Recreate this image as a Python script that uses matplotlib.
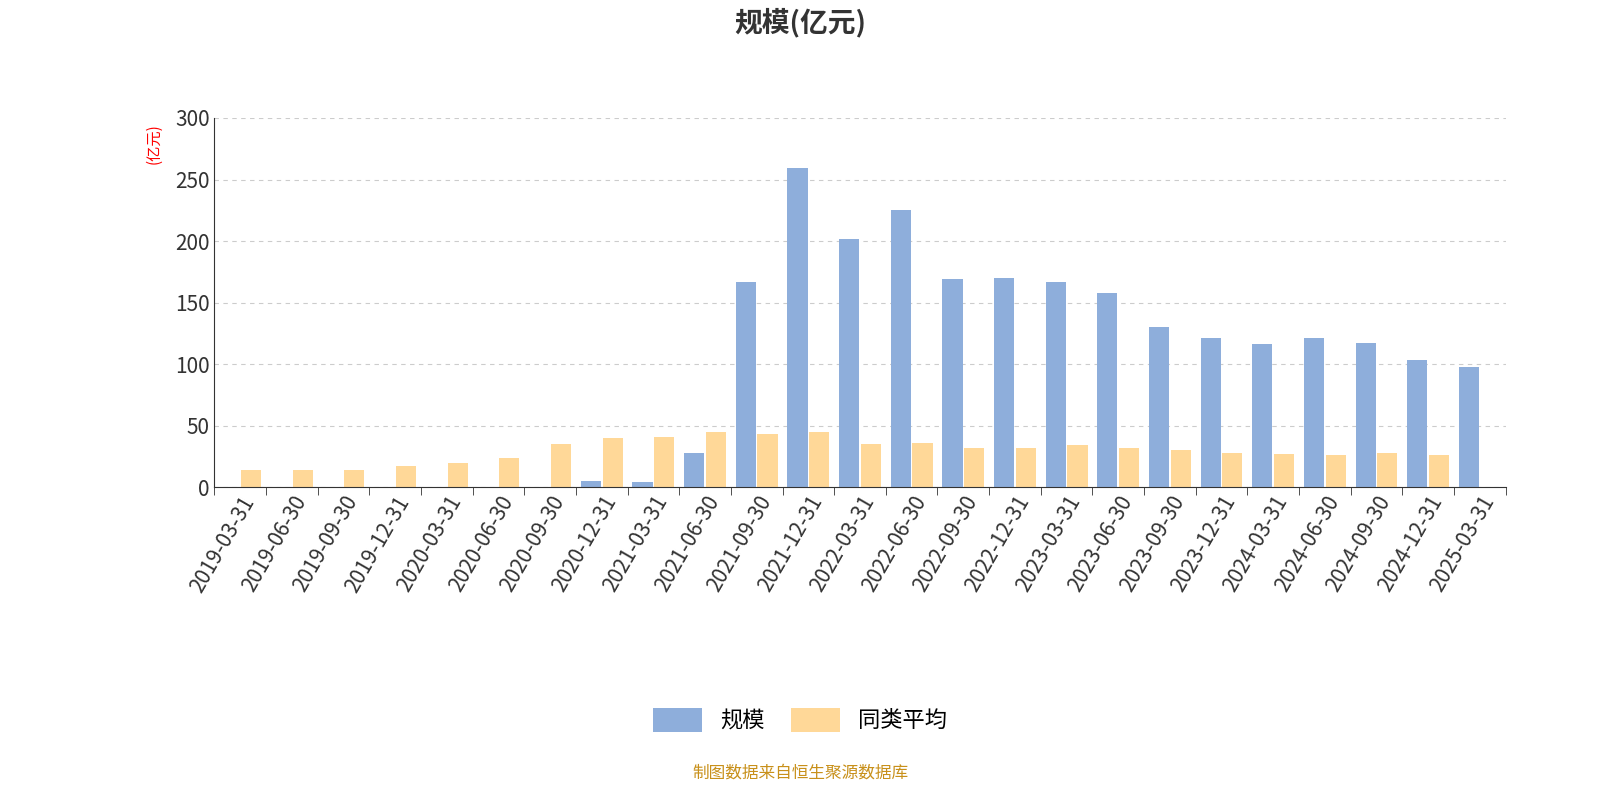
import matplotlib.pyplot as plt
import numpy as np

dates = ["2019-03-31", "2019-06-30", "2019-09-30", "2019-12-31", "2020-03-31", "2020-06-30",
         "2020-09-30", "2020-12-31", "2021-03-31", "2021-06-30", "2021-09-30", "2021-12-31",
         "2022-03-31", "2022-06-30", "2022-09-30", "2022-12-31", "2023-03-31", "2023-06-30",
         "2023-09-30", "2023-12-31", "2024-03-31", "2024-06-30", "2024-09-30", "2024-12-31",
         "2025-03-31"]
scale = [0.5, 0.5, 0, 0, 0, 0, 0, 5, 4, 28, 167, 259, 202, 225, 169, 170, 167, 158,
         130, 121, 116, 121, 117, 103, 98]
peer_avg = [14, 14, 14, 17, 20, 24, 35, 40, 41, 45, 43, 45, 35, 36, 32, 32, 34, 32,
            30, 28, 27, 26, 28, 26, 0]

plt.rcParams["font.family"] = "sans-serif"
plt.rcParams["font.sans-serif"] = ["Noto Sans CJK JP", "Noto Sans CJK SC", "DejaVu Sans"]

fig = plt.figure(figsize=(16, 8), dpi=100)
ax = fig.add_axes([0.134, 0.391, 0.807, 0.4615])

x = np.arange(len(dates))
w = 0.39
ax.bar(x - 0.21, scale, w, color="#8eaedb", label="规模")
ax.bar(x + 0.21, peer_avg, w, color="#ffd898", label="同类平均")

ax.set_xlim(-0.5, len(dates) - 0.5)
ax.set_ylim(0, 300)
ax.set_yticks(range(0, 301, 50))
ax.tick_params(axis="y", length=0, labelsize=15, colors="#333333")
ax.set_xticks(x)
ax.set_xticklabels(dates, rotation=60, ha="right", rotation_mode="anchor", fontsize=15, color="#333333")
ax.tick_params(axis="x", length=0)
ax.set_xticks(np.arange(-0.5, len(dates)), minor=True)
ax.tick_params(axis="x", which="minor", length=6, color="#333333")
ax.yaxis.grid(True, linestyle=(0, (4, 4)), color="#cccccc")
ax.set_axisbelow(True)
for s in ["top", "right"]:
    ax.spines[s].set_visible(False)
ax.spines["left"].set_color("#333333")
ax.spines["bottom"].set_color("#333333")

fig.text(0.5, 0.972, "规模(亿元)", ha="center", va="center", fontsize=20, fontweight="bold", color="#333333")
fig.text(0.096, 0.82, "(亿元)", rotation=90, ha="center", va="center", fontsize=11, color="red")
fig.legend(loc="center", bbox_to_anchor=(0.5, 0.1), ncol=2, frameon=False, fontsize=16,
           handlelength=2.2, handleheight=1.3, columnspacing=1.2)
fig.text(0.5, 0.034, "制图数据来自恒生聚源数据库", ha="center", va="center", fontsize=12, color="#c8901a")

fig.savefig("out.png")
